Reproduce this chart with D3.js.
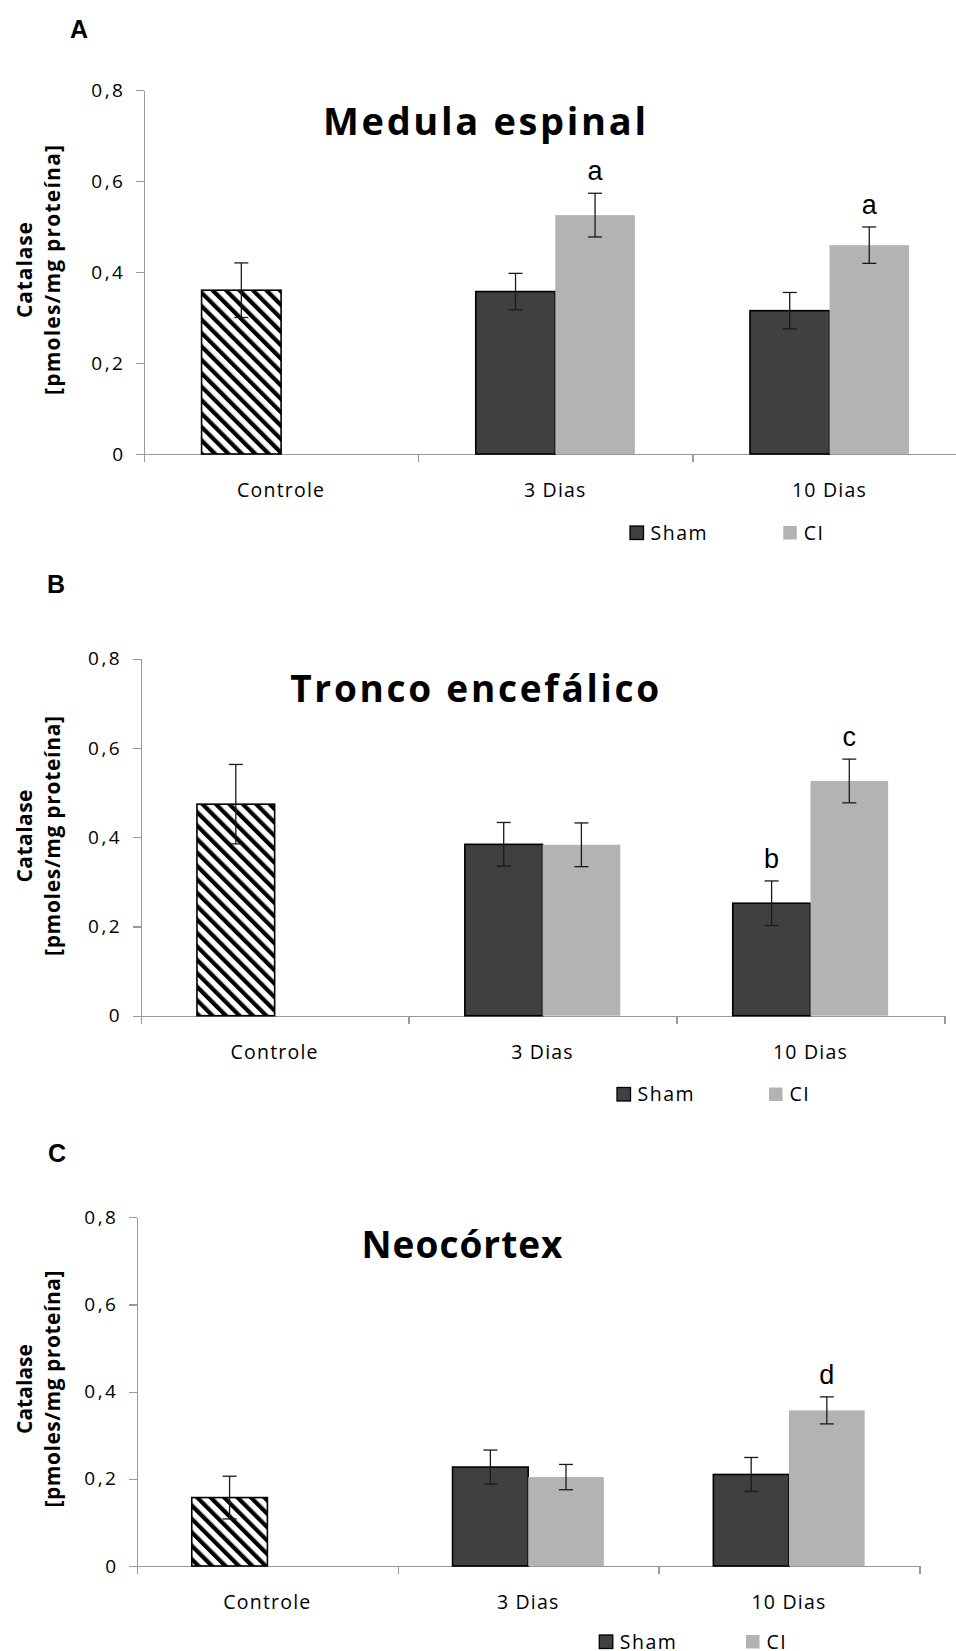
<html>
<head>
<meta charset="utf-8">
<script src="https://cdn.jsdelivr.net/npm/d3@7"></script>
<style>
  body { margin:0; background:#fff; }
  .axis path, .axis line { stroke:#999; stroke-width:1.3px; shape-rendering:crispEdges; }
  .tick text { font-family:"Open Sans", sans-serif; fill:#000; }
</style>
</head>
<body>
<script>
// datos
var categories = ["Controle", "3 Dias", "10 Dias"];
var seriesNames = ["Sham", "CI"];
var yTickValues = [0, 0.2, 0.4, 0.6, 0.8];
var yTickLabels = ["0", "0,2", "0,4", "0,6", "0,8"];
var panelLetters = ["A", "B", "C"];
var panelTitles = ["Medula espinal", "Tronco encefálico", "Neocórtex"];
var yLabelLines = ["Catalase", "[pmoles/mg proteína]"];

var medulaSham    = [0.360, 0.357, 0.315];
var medulaShamErr = [0.060, 0.040, 0.040];
var medulaCI      = [null, 0.525, 0.459];
var medulaCIErr   = [null, 0.048, 0.040];
var medulaShamLetters = ["", "", ""];
var medulaCILetters   = ["", "a", "a"];

var troncoSham    = [0.474, 0.384, 0.252];
var troncoShamErr = [0.089, 0.049, 0.050];
var troncoCI      = [null, 0.383, 0.526];
var troncoCIErr   = [null, 0.049, 0.049];
var troncoShamLetters = ["", "", "b"];
var troncoCILetters   = ["", "", "c"];

var neoSham    = [0.157, 0.227, 0.210];
var neoShamErr = [0.049, 0.039, 0.039];
var neoCI      = [null, 0.204, 0.357];
var neoCIErr   = [null, 0.029, 0.031];
var neoShamLetters = ["", "", ""];
var neoCILetters   = ["", "", "d"];

// posiciones de cada panel
var layout = [
  {left:144, top:90, bottom:454, band:274.2, titleX:484.5, titleY:135, titleSize:38, titleW:323,
   letterX:70, letterY:38, yLabelCY:270, yLabelW:[96,250], legendY:526, legendX:[630,783.3]},
  {left:140.7, top:658.7, bottom:1015.7, band:267.9, titleX:474.7, titleY:702, titleSize:37, titleW:369,
   letterX:47, letterY:593, yLabelCY:836, yLabelW:[93,240], legendY:1087.5, legendX:[617,769]},
  {left:137, top:1217.3, bottom:1566, band:260.8, titleX:462, titleY:1258.3, titleSize:37, titleW:201,
   letterX:48, letterY:1162, yLabelCY:1389, yLabelW:[90,237], legendY:1635, legendX:[599.3,746]}
];

var panelData = [
  {sham:medulaSham, shamErr:medulaShamErr, ci:medulaCI, ciErr:medulaCIErr, shamLet:medulaShamLetters, ciLet:medulaCILetters},
  {sham:troncoSham, shamErr:troncoShamErr, ci:troncoCI, ciErr:troncoCIErr, shamLet:troncoShamLetters, ciLet:troncoCILetters},
  {sham:neoSham, shamErr:neoShamErr, ci:neoCI, ciErr:neoCIErr, shamLet:neoShamLetters, ciLet:neoCILetters}
];

var colors = {Sham:"#404040", CI:"#b3b3b3"};

var svg = d3.select("body").append("svg")
  .attr("width", 956).attr("height", 1651)
  .style("background", "#fff");

// patron de rayas para el control
var pat = svg.append("defs").append("pattern")
  .attr("id", "hatch")
  .attr("patternUnits", "userSpaceOnUse")
  .attr("width", 9.5).attr("height", 9.5)
  .attr("patternTransform", "rotate(-45)");
pat.append("rect").attr("width", 9.5).attr("height", 9.5).attr("fill", "#fff");
pat.append("rect").attr("width", 4.2).attr("height", 9.5).attr("fill", "#000");

layout.forEach(function(L, p) {
  var D = panelData[p];
  var g = svg.append("g");

  var x0 = d3.scaleBand().domain(categories)
    .range([L.left, L.left + 3 * L.band]).paddingInner(0).paddingOuter(0);
  var x1 = d3.scaleBand().domain(seriesNames)
    .range([0, x0.bandwidth()]).paddingInner(0).paddingOuter(0.724);
  var xIdx = d3.scaleLinear().domain([0, 3]).range(x0.range());
  var y = d3.scaleLinear().domain([0, 0.8]).range([L.bottom, L.top]);

  // ejes
  g.append("g").attr("class", "axis")
    .attr("transform", "translate(0," + L.bottom + ")")
    .call(d3.axisBottom(xIdx).tickValues([0, 1, 2, 3]).tickSize(8).tickSizeOuter(0).tickFormat(""));

  var yAx = g.append("g").attr("class", "axis")
    .attr("transform", "translate(" + L.left + ",0)")
    .call(d3.axisLeft(y).tickValues(yTickValues).tickSize(8).tickSizeOuter(0).tickPadding(10.5)
      .tickFormat(function(d, i) { return yTickLabels[i]; }));
  yAx.selectAll("text").style("font-size", "19px").style("letter-spacing", "2.5px");

  var xLab = g.append("g").attr("class", "axis")
    .attr("transform", "translate(0," + L.bottom + ")")
    .call(d3.axisBottom(x0).tickSize(0));
  xLab.select(".domain").remove();
  xLab.selectAll("text").attr("y", 43).attr("dy", null)
    .style("font-size", "19.5px").style("letter-spacing", "1.2px");

  // barras
  var rows = categories.map(function(c, i) {
    return [
      {cat:c, s:"Sham", v:D.sham[i], e:D.shamErr[i], lab:D.shamLet[i], ctrl:i === 0},
      {cat:c, s:"CI", v:D.ci[i], e:D.ciErr[i], lab:D.ciLet[i], ctrl:false}
    ];
  }).flat().filter(function(d) { return d.v != null; });

  var bw = x1.bandwidth();
  g.selectAll("rect.bar").data(rows).enter().append("rect")
    .attr("class", "bar")
    .attr("x", function(d) { return x0(d.cat) + x1(d.s); })
    .attr("y", function(d) { return y(d.v); })
    .attr("width", bw)
    .attr("height", function(d) { return y(0) - y(d.v); })
    .attr("fill", function(d) { return d.ctrl ? "url(#hatch)" : colors[d.s]; })
    .attr("stroke", function(d) { return d.s === "Sham" ? "#000" : "none"; })
    .attr("stroke-width", 1.6);

  // barras de error
  var eb = g.selectAll("g.err").data(rows).enter().append("g").attr("class", "err")
    .attr("stroke", "#1a1a1a").attr("stroke-width", 1.3);
  var cx = function(d) { return x0(d.cat) + x1(d.s) + bw / 2; };
  eb.append("line")
    .attr("x1", cx).attr("x2", cx)
    .attr("y1", function(d) { return y(d.v + d.e); })
    .attr("y2", function(d) { return y(d.v - d.e); });
  eb.append("line")
    .attr("x1", function(d) { return cx(d) - 7; }).attr("x2", function(d) { return cx(d) + 7; })
    .attr("y1", function(d) { return y(d.v + d.e); }).attr("y2", function(d) { return y(d.v + d.e); });
  eb.append("line")
    .attr("x1", function(d) { return cx(d) - 7; }).attr("x2", function(d) { return cx(d) + 7; })
    .attr("y1", function(d) { return y(d.v - d.e); }).attr("y2", function(d) { return y(d.v - d.e); });

  // letras de significancia
  g.selectAll("text.sig").data(rows.filter(function(d) { return d.lab; })).enter().append("text")
    .attr("class", "sig")
    .attr("x", cx)
    .attr("y", function(d) { return y(d.v + d.e) - 13; })
    .attr("text-anchor", "middle")
    .style("font-family", "'Liberation Sans', Arial, sans-serif")
    .style("font-size", "27px")
    .text(function(d) { return d.lab; });

  // titulo
  g.append("text")
    .attr("x", L.titleX).attr("y", L.titleY)
    .attr("text-anchor", "middle")
    .attr("textLength", L.titleW).attr("lengthAdjust", "spacing")
    .style("font-family", "'Open Sans', sans-serif")
    .style("font-weight", "bold")
    .style("font-size", L.titleSize + "px")
    .text(panelTitles[p]);

  // letra del panel
  g.append("text")
    .attr("x", L.letterX).attr("y", L.letterY)
    .style("font-family", "'Liberation Sans', Arial, sans-serif")
    .style("font-weight", "bold")
    .style("font-size", "25px")
    .text(panelLetters[p]);

  // titulo eje y
  var yl = g.append("text")
    .attr("transform", "translate(0," + L.yLabelCY + ") rotate(-90)")
    .attr("text-anchor", "middle")
    .style("font-family", "'Open Sans', sans-serif")
    .style("font-weight", "bold")
    .style("font-size", "21px");
  yl.append("tspan").attr("x", 0).attr("y", 32)
    .attr("textLength", L.yLabelW[0]).attr("lengthAdjust", "spacing")
    .text(yLabelLines[0]);
  yl.append("tspan").attr("x", 0).attr("y", 60)
    .attr("textLength", L.yLabelW[1]).attr("lengthAdjust", "spacing")
    .text(yLabelLines[1]);

  // leyenda
  seriesNames.forEach(function(s, k) {
    var lx = L.legendX[k];
    g.append("rect")
      .attr("x", lx).attr("y", L.legendY)
      .attr("width", 13.5).attr("height", 13.5)
      .attr("fill", colors[s])
      .attr("stroke", s === "Sham" ? "#000" : "none")
      .attr("stroke-width", 1.3);
    g.append("text")
      .attr("x", lx + 20.5).attr("y", L.legendY + 13.5)
      .style("font-family", "'Open Sans', sans-serif")
      .style("font-size", "19.5px")
      .style("letter-spacing", "1.5px")
      .text(s);
  });
});
</script>
</body>
</html>
